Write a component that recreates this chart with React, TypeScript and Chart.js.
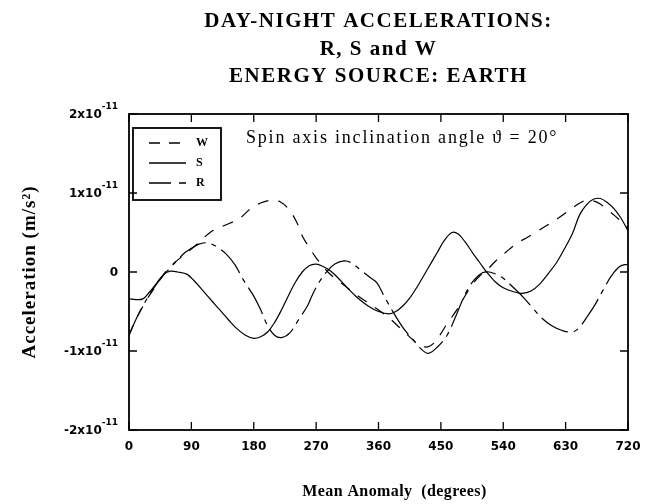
import { useEffect, useRef } from "react";
import { Chart, registerables } from "chart.js";

Chart.register(...registerables);

// ---- data (values in units of 1e-11 m/s^2) ----
const titleLines = ["DAY-NIGHT ACCELERATIONS:", "R, S and W", "ENERGY SOURCE: EARTH"];
const xTickValues = [0, 90, 180, 270, 360, 450, 540, 630, 720];
const yTickValues = [-2, -1, 0, 1, 2];
const yTickMantissa = ["-2x10", "-1x10", "0", "1x10", "2x10"];
const yTickExponent = ["-11", "-11", "", "-11", "-11"];
const legendLabels = ["W", "S", "R"];
const xAxisTitle = "Mean Anomaly  (degrees)";
const yAxisTitle = "Acceleration (m/s\u00B2)";
const noteText = "Spin axis inclination angle \u03D1 = 20\u00B0";

const sDeg = [0, 10, 20, 30, 40, 50, 60, 70, 84, 95, 107, 120, 131, 145, 156, 168, 180, 190, 200, 210, 220, 230, 240, 250, 260, 270, 280, 290, 300, 315, 330, 345, 360, 375, 385, 395, 405, 415, 425, 435, 445, 455, 466, 475, 485, 496, 506, 516, 528, 540, 555, 567, 580, 593, 605, 617, 630, 640, 650, 660, 670, 680, 690, 700, 710, 720];
const sVal = [-0.34, -0.35, -0.34, -0.25, -0.14, -0.03, 0.01, 0.0, -0.03, -0.12, -0.24, -0.37, -0.48, -0.62, -0.72, -0.8, -0.84, -0.82, -0.76, -0.64, -0.48, -0.3, -0.13, 0.0, 0.08, 0.1, 0.07, 0.02, -0.06, -0.2, -0.33, -0.43, -0.5, -0.53, -0.5, -0.43, -0.33, -0.2, -0.05, 0.1, 0.25, 0.4, 0.5, 0.48, 0.38, 0.24, 0.12, 0.0, -0.12, -0.2, -0.25, -0.27, -0.24, -0.15, -0.02, 0.12, 0.32, 0.49, 0.72, 0.85, 0.92, 0.93, 0.88, 0.8, 0.68, 0.52];

const wDeg = [0, 10, 23, 30, 40, 55, 70, 80, 95, 117, 130, 146, 160, 175, 189, 206, 218, 230, 242, 251, 258, 270, 287, 300, 315, 330, 345, 360, 375, 390, 400, 410, 420, 430, 440, 450, 460, 473, 485, 496, 506, 516, 528, 545, 561, 575, 590, 605, 619, 635, 648, 660, 670, 680, 690, 700, 710, 720];
const wVal = [-0.8, -0.6, -0.39, -0.29, -0.16, 0.03, 0.15, 0.22, 0.33, 0.5, 0.56, 0.62, 0.68, 0.8, 0.87, 0.91, 0.89, 0.8, 0.63, 0.44, 0.34, 0.18, 0.0, -0.1, -0.2, -0.3, -0.39, -0.48, -0.58, -0.7, -0.78, -0.86, -0.92, -0.95, -0.9, -0.78, -0.64, -0.48, -0.3, -0.15, -0.05, 0.02, 0.13, 0.26, 0.37, 0.44, 0.52, 0.6, 0.68, 0.78, 0.86, 0.91, 0.9, 0.86, 0.79, 0.72, 0.64, 0.56];

const rDeg = [0, 10, 20, 30, 40, 50, 60, 70, 80, 90, 100, 110, 120, 130, 141, 153, 165, 179, 189, 200, 210, 220, 232, 245, 258, 264, 275, 287, 297, 310, 320, 335, 348, 358, 369, 382, 395, 410, 422, 432, 445, 459, 472, 485, 498, 510, 520, 530, 540, 555, 570, 583, 595, 610, 625, 640, 650, 660, 672, 684, 696, 708, 720];
const rVal = [-0.8, -0.6, -0.43, -0.28, -0.15, -0.04, 0.06, 0.15, 0.24, 0.3, 0.35, 0.37, 0.35, 0.3, 0.22, 0.09, -0.1, -0.29, -0.46, -0.68, -0.8, -0.83, -0.77, -0.6, -0.42, -0.3, -0.12, 0.02, 0.1, 0.14, 0.12, 0.02, -0.07, -0.14, -0.32, -0.52, -0.7, -0.86, -0.98, -1.03, -0.95, -0.8, -0.55, -0.28, -0.1, -0.01, 0.0, -0.03, -0.08, -0.2, -0.33, -0.46, -0.58, -0.68, -0.74, -0.76, -0.7, -0.58, -0.42, -0.23, -0.05, 0.07, 0.1];

const wDash = [11, 10];
const sDash: number[] = [];
const rDash = [30, 6, 5, 6];

const SERIF = '"Liberation Serif", "DejaVu Serif", serif';
const SANS = '"DejaVu Sans", sans-serif';

function pts(xs: number[], ys: number[]) {
  return xs.map((x, i) => ({ x, y: ys[i] }));
}

function setSpacing(ctx: any, px: number) {
  if ("letterSpacing" in ctx) ctx.letterSpacing = `${px}px`;
}

const decorPlugin = {
  id: "decor",
  beforeDraw(chart: any) {
    const ctx = chart.ctx;
    ctx.save();
    ctx.fillStyle = "#fff";
    ctx.fillRect(0, 0, chart.width, chart.height);
    ctx.restore();
  },
  afterDraw(chart: any) {
    const ctx = chart.ctx as CanvasRenderingContext2D;
    const { left, right, top, bottom } = chart.chartArea;
    const xs = chart.scales.x;
    const ys = chart.scales.y;
    ctx.save();
    ctx.strokeStyle = "#000";
    ctx.fillStyle = "#000";
    // frame
    ctx.lineWidth = 1.8;
    ctx.setLineDash([]);
    ctx.strokeRect(left, top, right - left, bottom - top);
    // ticks
    ctx.lineWidth = 1.3;
    const tl = 8;
    xTickValues.forEach((v) => {
      const px = xs.getPixelForValue(v);
      ctx.beginPath();
      ctx.moveTo(px, bottom);
      ctx.lineTo(px, bottom - tl);
      ctx.moveTo(px, top);
      ctx.lineTo(px, top + tl);
      ctx.stroke();
    });
    yTickValues.forEach((v) => {
      const py = ys.getPixelForValue(v);
      ctx.beginPath();
      ctx.moveTo(left, py);
      ctx.lineTo(left + tl, py);
      ctx.moveTo(right, py);
      ctx.lineTo(right - tl, py);
      ctx.stroke();
    });
    // x tick labels
    ctx.font = `bold 12px ${SANS}`;
    ctx.textAlign = "center";
    ctx.textBaseline = "middle";
    xTickValues.forEach((v) => {
      ctx.fillText(String(v), xs.getPixelForValue(v), bottom + 17);
    });
    // y tick labels
    yTickValues.forEach((v, i) => {
      const py = ys.getPixelForValue(v);
      const exp = yTickExponent[i];
      const xr = left - 11;
      ctx.textAlign = "right";
      if (exp) {
        ctx.font = `bold 9px ${SANS}`;
        const ew = ctx.measureText(exp).width;
        ctx.fillText(exp, xr, py - 7);
        ctx.font = `bold 12px ${SANS}`;
        ctx.fillText(yTickMantissa[i], xr - ew, py + 1);
      } else {
        ctx.font = `bold 12px ${SANS}`;
        ctx.fillText(yTickMantissa[i], xr, py + 1);
      }
    });
    // titles
    const cx = (left + right) / 2;
    ctx.textAlign = "center";
    ctx.font = `bold 21px ${SERIF}`;
    setSpacing(ctx, 1.5);
    const ty = [22, 50, 77];
    titleLines.forEach((t, i) => ctx.fillText(t, cx, ty[i]));
    // axis titles
    ctx.font = `bold 16px ${SERIF}`;
    setSpacing(ctx, 0.4);
    ctx.fillText(xAxisTitle, cx + 16, 492);
    ctx.save();
    ctx.translate(30, (top + bottom) / 2);
    ctx.rotate(-Math.PI / 2);
    ctx.font = `bold 19px ${SERIF}`;
    setSpacing(ctx, 1);
    ctx.fillText(yAxisTitle, 0, 0);
    ctx.restore();
    // note
    ctx.font = `18px ${SERIF}`;
    setSpacing(ctx, 1.8);
    ctx.textAlign = "left";
    ctx.fillText(noteText, 246, 138);
    setSpacing(ctx, 0);
    // legend
    const lx = left + 4, ly = 128, lw = 88, lh = 72;
    ctx.lineWidth = 1.8;
    ctx.strokeRect(lx, ly, lw, lh);
    const rows = [143, 163, 183];
    ctx.lineWidth = 1.3;
    legendLabels.forEach((lab, i) => {
      ctx.setLineDash(i === 0 ? [11, 9] : i === 2 ? [22, 8, 7, 20] : []);
      ctx.beginPath();
      ctx.moveTo(lx + 16, rows[i]);
      ctx.lineTo(lx + 53, rows[i]);
      ctx.stroke();
      ctx.setLineDash([]);
      ctx.font = `bold 12px ${SERIF}`;
      ctx.fillText(lab, lx + 63, rows[i]);
    });
    ctx.restore();
  },
};

export default function App() {
  const ref = useRef<HTMLCanvasElement | null>(null);
  useEffect(() => {
    if (!ref.current) return;
    const common = {
      borderColor: "#000",
      borderWidth: 1.2,
      pointRadius: 0,
      fill: false,
      tension: 0.35,
    };
    const chart = new Chart(ref.current, {
      type: "line",
      data: {
        datasets: [
          { ...common, label: "W", data: pts(wDeg, wVal), borderDash: wDash },
          { ...common, label: "S", data: pts(sDeg, sVal), borderDash: sDash },
          { ...common, label: "R", data: pts(rDeg, rVal), borderDash: rDash },
        ],
      },
      options: {
        responsive: false,
        animation: false,
        devicePixelRatio: 1,
        layout: { padding: { left: 129, right: 20, top: 114, bottom: 74 } },
        plugins: { legend: { display: false }, title: { display: false }, tooltip: { enabled: false } },
        scales: {
          x: { type: "linear", min: 0, max: 720, display: false },
          y: { type: "linear", min: -2, max: 2, display: false },
        },
      },
      plugins: [decorPlugin],
    });
    return () => chart.destroy();
  }, []);
  return (
    <div style={{ position: "absolute", left: 0, top: 0, width: 648, height: 504, background: "#fff" }}>
      <canvas ref={ref} width={648} height={504} style={{ width: 648, height: 504 }} />
    </div>
  );
}
